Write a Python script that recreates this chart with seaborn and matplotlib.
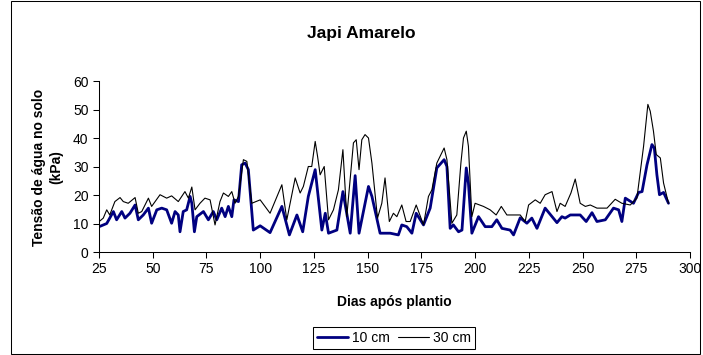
import seaborn as sns
import matplotlib.pyplot as plt
import matplotlib.patches as patches
import pandas as pd

# 10 cm (linha azul grossa)
days_10 = [25.1, 28.6, 31.7, 33.2, 35.6, 37.1, 39.4, 41.8, 43.3, 45.6,
           48.0, 49.5, 51.9, 54.2, 56.5, 58.8, 60.4, 61.9, 62.7, 64.2,
           65.8, 67.4, 68.2, 69.4, 70.5, 73.6, 75.9, 78.2, 79.8, 82.1,
           83.7, 85.2, 86.8, 87.8, 89.9, 91.4, 93.0, 94.5, 96.8, 100.0,
           104.6, 110.1, 113.6, 117.1, 119.8, 122.4, 125.6, 128.7, 130.3, 131.8,
           135.7, 138.5, 141.9, 144.2, 146.0, 150.4, 152.0, 155.8, 160.5, 164.3,
           165.9, 168.2, 170.6, 172.6, 176.0, 179.1, 182.2, 185.6, 186.9, 188.4,
           189.9, 192.3, 193.9, 195.9, 196.9, 198.5, 201.6, 204.7, 207.8, 210.1,
           212.5, 216.3, 217.9, 221.0, 224.1, 226.4, 228.8, 232.6, 238.1, 240.4,
           241.9, 244.3, 248.9, 251.7, 254.4, 256.7, 260.6, 264.4, 266.8, 268.3,
           269.9, 273.7, 276.1, 277.7, 280.0, 282.3, 283.4, 284.6, 285.8, 287.7, 290.0]
tensao_10 = [8.9, 10.0, 14.2, 11.3, 14.2, 11.9, 13.6, 16.5, 11.3, 13.0,
             15.4, 10.1, 14.8, 15.4, 14.8, 10.1, 14.2, 13.0, 7.1, 14.2,
             14.8, 19.5, 17.1, 7.1, 12.4, 14.2, 11.3, 14.2, 11.3, 15.4,
             12.4, 16.0, 12.4, 18.3, 17.7, 30.6, 31.2, 28.9, 7.7, 9.2,
             6.8, 16.0, 6.0, 13.0, 7.1, 19.5, 28.9, 7.7, 13.6, 6.6,
             7.7, 21.2, 6.6, 26.8, 6.6, 23.0, 19.5, 6.6, 6.6, 6.0,
             9.5, 8.9, 6.6, 13.6, 9.5, 15.4, 29.5, 32.4, 30.0, 8.3,
             9.5, 7.1, 7.7, 29.5, 24.2, 6.6, 12.4, 8.9, 8.9, 11.3,
             8.3, 7.7, 6.0, 12.0, 10.1, 11.9, 8.3, 15.4, 10.3, 12.4,
             11.9, 13.0, 13.0, 10.7, 13.8, 10.7, 11.3, 15.4, 14.8, 10.7,
             18.9, 17.1, 20.9, 21.2, 30.6, 37.7, 36.5, 27.1, 20.1, 20.9, 17.1]

# 30 cm (linha preta fina)
days_30 = [25.1, 27.0, 28.6, 30.0, 32.4, 34.8, 36.3, 38.6, 41.8, 43.3,
           44.9, 48.0, 49.5, 53.4, 56.5, 58.8, 61.9, 65.0, 66.6, 68.2,
           69.7, 72.0, 74.3, 76.7, 79.0, 81.3, 82.9, 85.2, 86.8, 88.3,
           89.9, 92.2, 93.8, 96.1, 100.0, 104.6, 110.1, 112.4, 116.3, 118.6,
           120.1, 122.4, 124.0, 125.6, 126.7, 127.9, 129.8, 131.8, 134.1, 136.4,
           138.5, 140.3, 143.4, 144.7, 146.0, 147.3, 148.8, 150.4, 152.0, 154.6,
           156.6, 158.1, 160.1, 162.0, 163.6, 165.9, 167.9, 169.8, 172.6, 176.0,
           178.3, 179.9, 182.2, 185.6, 186.9, 189.2, 191.5, 193.4, 194.6, 195.9,
           196.9, 198.5, 200.0, 203.9, 207.0, 209.8, 212.2, 214.8, 221.0, 223.3,
           224.9, 228.0, 230.3, 232.6, 235.8, 238.1, 239.6, 241.9, 244.6, 246.6,
           248.9, 251.3, 253.6, 256.7, 261.4, 265.2, 268.3, 272.2, 275.3, 278.4,
           280.4, 281.5, 283.0, 284.3, 286.2, 287.7, 290.0]
tensao_30 = [10.7, 11.9, 14.8, 13.0, 17.7, 19.1, 17.7, 17.1, 19.1, 13.6,
             14.2, 18.9, 16.0, 20.1, 18.9, 19.7, 17.7, 21.2, 18.9, 22.8,
             14.8, 17.1, 18.9, 18.3, 9.5, 17.7, 20.7, 19.5, 21.2, 17.1,
             19.5, 32.4, 31.8, 17.1, 18.3, 13.6, 23.6, 11.3, 26.0, 20.7,
             23.0, 30.0, 30.0, 38.8, 33.6, 27.1, 30.0, 11.3, 14.8, 21.8,
             35.9, 12.4, 38.3, 39.4, 28.9, 39.4, 41.2, 40.0, 31.2, 11.9,
             17.1, 26.0, 10.7, 13.6, 12.4, 16.5, 10.7, 10.7, 16.5, 9.5,
             19.5, 21.8, 31.2, 36.5, 32.4, 10.1, 13.0, 31.2, 40.0, 42.4,
             37.1, 12.4, 17.1, 16.0, 14.8, 13.0, 16.0, 13.0, 13.0, 10.7,
             16.5, 18.3, 17.1, 20.1, 21.2, 14.2, 17.1, 16.0, 20.7, 25.6,
             17.1, 16.0, 16.5, 15.4, 15.4, 18.5, 17.1, 16.5, 18.9, 37.1,
             51.8, 49.4, 42.4, 34.2, 33.0, 24.2, 17.1]

x_ticks = list(range(25, 301, 25))
y_ticks = list(range(0, 61, 10))

sns.set_theme(style="ticks")
plt.rcParams["font.family"] = ["Liberation Sans", "DejaVu Sans"]
plt.rcParams["axes.edgecolor"] = "black"
plt.rcParams["xtick.color"] = "black"
plt.rcParams["ytick.color"] = "black"
plt.rcParams["text.color"] = "black"

fig = plt.figure(figsize=(7.03, 3.55), dpi=100)
ax = fig.add_axes([0.1408, 0.2901, 0.8407, 0.4817])

sns.lineplot(x=days_10, y=tensao_10, color="#000080", linewidth=2.0,
             label="10 cm", ax=ax, sort=False)
sns.lineplot(x=days_30, y=tensao_30, color="black", linewidth=0.8,
             label="30 cm", ax=ax, sort=False)

ax.set_xlim(25, 300)
ax.set_ylim(0, 60)
ax.set_xticks(x_ticks)
ax.set_yticks(y_ticks)
ax.tick_params(labelsize=10, length=4, width=0.75, direction="out")
for s in ["left", "bottom"]:
    ax.spines[s].set_linewidth(0.75)
sns.despine(ax=ax)
ax.set_xlabel("")
ax.set_ylabel("")

handles, labels = ax.get_legend_handles_labels()
ax.get_legend().remove()
leg = fig.legend(handles, labels, loc="upper center", bbox_to_anchor=(0.5605, 0.079),
                 ncol=2, frameon=True, fancybox=False, edgecolor="black", framealpha=1,
                 fontsize=10, handlelength=2.2, handletextpad=0.3, columnspacing=0.6,
                 borderpad=0.3, borderaxespad=0)
leg.get_frame().set_linewidth(0.75)

fig.text(0.514, 0.907, "Japi Amarelo", ha="center", va="center",
         fontsize=12.5, fontweight="bold")
fig.text(0.5605, 0.149, "Dias após plantio", ha="center", va="center",
         fontsize=10, fontweight="bold")
fig.text(0.068, 0.529, "Tensão de água no solo\n(kPa)", ha="center", va="center",
         rotation=90, fontsize=10, fontweight="bold", multialignment="center",
         linespacing=1.35)

# moldura externa do gráfico
fig.add_artist(patches.Rectangle((11 / 703, 0.002), 689 / 703, 0.994,
                                 transform=fig.transFigure, fill=False,
                                 edgecolor="black", linewidth=0.75))

fig.savefig("out.png", dpi=100)
